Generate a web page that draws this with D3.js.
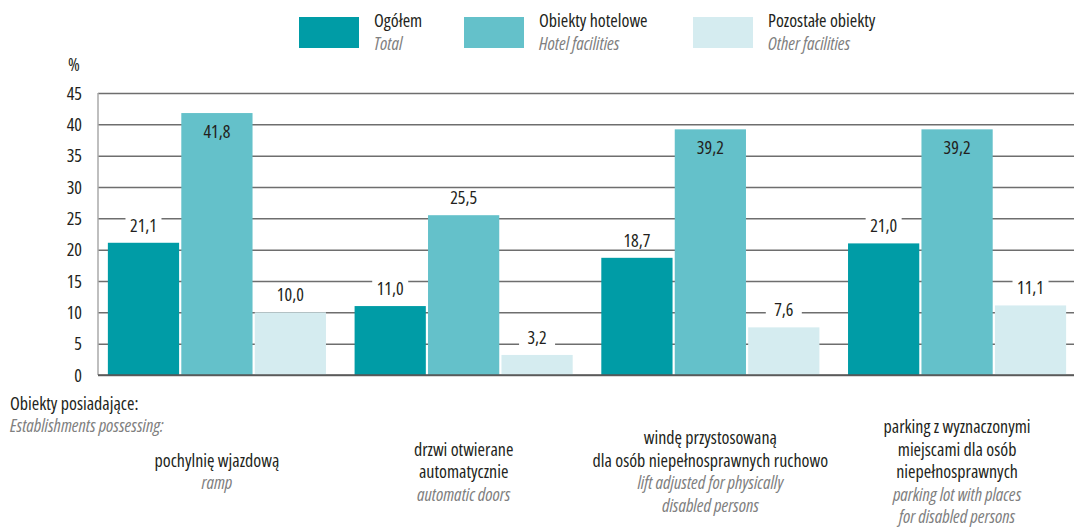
<!DOCTYPE html>
<meta charset="utf-8">
<style>
body {
    margin: 0;
    background: #fff;
}
svg text {
    font-family: "Open Sans", "DejaVu Sans Condensed", sans-serif;
    font-stretch: 77%;
}
.tick text {
    font-size: 18px;
    fill: #231f20;
}
.val {
    font-size: 18px;
    fill: #231f20;
}
.pl {
    font-size: 18px;
    fill: #231f20;
}
.en {
    font-size: 18px;
    font-style: italic;
    fill: #808080;
}
</style>
<body>
<svg width="1074" height="528"></svg>
<script src="https://d3js.org/d3.v7.min.js"></script>
<script>

var categories = ["ramp", "doors", "lift", "parking"];
var catLabelsPl = [
    ["pochylnię wjazdową"],
    ["drzwi otwierane", "automatycznie"],
    ["windę przystosowaną", "dla osób niepełnosprawnych ruchowo"],
    ["parking z wyznaczonymi", "miejscami dla osób", "niepełnosprawnych"]
];
var catLabelsEn = [
    ["ramp"],
    ["automatic doors"],
    ["lift adjusted for physically", "disabled persons"],
    ["parking lot with places", "for disabled persons"]
];
var seriesPl = ["Ogółem", "Obiekty hotelowe", "Pozostałe obiekty"];
var seriesEn = ["Total", "Hotel facilities", "Other facilities"];
var total = [21.1, 11.0, 18.7, 21.0];
var hotel = [41.8, 25.5, 39.2, 39.2];
var other = [10.0, 3.2, 7.6, 11.1];
var yTicks = [0, 5, 10, 15, 20, 25, 30, 35, 40, 45];

var colors = ["#009ca6", "#64c1ca", "#d5ecf0"];
var seriesVals = [total, hotel, other];

var svg = d3.select("svg");
var plotL = 98, plotR = 1076, plotT = 93, plotB = 375;

var x0 = d3.scaleBand()
    .domain(categories)
    .range([plotL, plotR])
    .paddingInner(0.116)
    .paddingOuter(0.04);
var x1 = d3.scaleBand()
    .domain(d3.range(3))
    .range([0, x0.bandwidth()])
    .paddingInner(0.03);
var y = d3.scaleLinear()
    .domain([0, 45])
    .range([plotB, plotT]);

// grid
var yAxis = svg.append("g")
    .attr("transform", "translate(" + plotL + ",0)")
    .call(d3.axisLeft(y)
        .tickValues(yTicks)
        .tickSize(-(1074 - plotL))
        .tickPadding(16)
        .tickFormat(d3.format("d")));
yAxis.select(".domain").remove();
yAxis.selectAll(".tick line")
    .attr("stroke", "#6e6e6e")
    .attr("stroke-width", 1.5);
yAxis.selectAll(".tick text").attr("dy", "0.35em");

svg.append("line")
    .attr("x1", plotL).attr("x2", plotL)
    .attr("y1", plotT).attr("y2", plotB)
    .attr("stroke", "#aaa")
    .attr("stroke-width", 1.5);

svg.append("text")
    .attr("class", "pl")
    .attr("x", 74).attr("y", 71)
    .attr("text-anchor", "middle")
    .text("%");

// bars
var groups = svg.append("g").selectAll("g")
    .data(categories)
    .enter().append("g")
    .attr("transform", function(d) { return "translate(" + x0(d) + ",0)"; });

groups.each(function(c, ci) {
    var g = d3.select(this);
    seriesVals.forEach(function(vals, si) {
        var v = vals[ci];
        g.append("rect")
            .attr("x", x1(si))
            .attr("y", y(v))
            .attr("width", x1.bandwidth())
            .attr("height", y(0) - y(v))
            .attr("fill", colors[si]);
    });
});

// bottom axis line
svg.append("line")
    .attr("x1", plotL).attr("x2", 1074)
    .attr("y1", plotB).attr("y2", plotB)
    .attr("stroke", "#555")
    .attr("stroke-width", 1.5);

// value labels
groups.each(function(c, ci) {
    var g = d3.select(this);
    seriesVals.forEach(function(vals, si) {
        var v = vals[ci];
        var cx = x1(si) + x1.bandwidth() / 2;
        var txt = d3.format(".1f")(v).replace(".", ",");
        var inside = v > 35;
        var ty = inside ? y(v) + 25 : y(v) - 11;
        if (!inside) {
            g.append("rect")
                .attr("x", cx - 18)
                .attr("y", ty - 15)
                .attr("width", 36)
                .attr("height", 17)
                .attr("fill", "#fff");
        }
        g.append("text")
            .attr("class", "val")
            .attr("x", cx)
            .attr("y", ty)
            .attr("text-anchor", "middle")
            .text(txt);
    });
});

// category labels
var lineH = 22.5;
categories.forEach(function(c, ci) {
    var cx = x0(c) + x0.bandwidth() / 2;
    var lines = catLabelsPl[ci].map(function(t) { return {t: t, cls: "pl"}; })
        .concat(catLabelsEn[ci].map(function(t) { return {t: t, cls: "en"}; }));
    var y0 = 478 - (lines.length - 1) * lineH / 2;
    lines.forEach(function(l, i) {
        svg.append("text")
            .attr("class", l.cls)
            .attr("x", cx)
            .attr("y", y0 + i * lineH)
            .attr("text-anchor", "middle")
            .text(l.t);
    });
});

svg.append("text").attr("class", "pl")
    .attr("x", 10).attr("y", 410)
    .text("Obiekty posiadające:");
svg.append("text").attr("class", "en")
    .attr("x", 10).attr("y", 432)
    .text("Establishments possessing:");

// legend
var legX = [299, 464, 693];
seriesPl.forEach(function(s, i) {
    svg.append("rect")
        .attr("x", legX[i]).attr("y", 17)
        .attr("width", 60).attr("height", 31)
        .attr("fill", colors[i]);
    svg.append("text").attr("class", "pl")
        .attr("x", legX[i] + 75).attr("y", 27)
        .text(s);
    svg.append("text").attr("class", "en")
        .attr("x", legX[i] + 75).attr("y", 50)
        .text(seriesEn[i]);
});

</script>
